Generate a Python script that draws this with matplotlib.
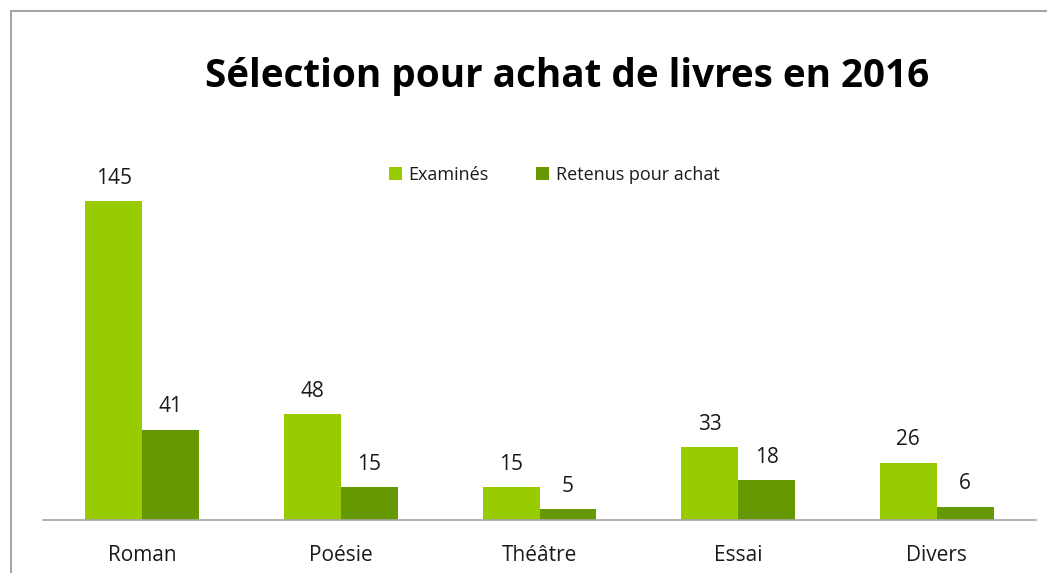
import matplotlib
matplotlib.use("Agg")
import matplotlib.pyplot as plt
import numpy as np
from matplotlib.patches import Rectangle

categories = ["Roman", "Poésie", "Théâtre", "Essai", "Divers"]
examines = [145, 48, 15, 33, 26]
retenus = [41, 15, 5, 18, 6]
series_names = ["Examinés", "Retenus pour achat"]
title = "Sélection pour achat de livres en 2016"

c1 = "#99CC00"
c2 = "#669900"
font = "Open Sans"

W, H = 1047, 573
fig = plt.figure(figsize=(W / 100, H / 100), dpi=100)

# outer frame (top and left visible)
fig.add_artist(Rectangle((11 / W, -0.01), 1.05, 1 - 11 / H + 0.01, transform=fig.transFigure,
                         fill=False, edgecolor="#A6A6A6", linewidth=1.5))

ax = fig.add_axes([43 / W, 1 - 520 / H, (1036 - 43) / W, (520 - 168) / H])
x = np.arange(len(categories))
w = 0.287
b1 = ax.bar(x - w / 2, examines, w, color=c1, label=series_names[0])
b2 = ax.bar(x + w / 2, retenus, w, color=c2, label=series_names[1])
ax.set_xlim(-0.5, len(categories) - 0.5)
ax.set_ylim(0, 160)

for bars in (b1, b2):
    for r in bars:
        ax.annotate(f"{int(r.get_height())}", (r.get_x() + r.get_width() / 2, r.get_height()),
                    xytext=(0, 9), textcoords="offset points", ha="center", va="bottom",
                    fontsize=15, family=font, color="#1a1a1a")

ax.set_xticks(x)
ax.set_xticklabels(categories, fontsize=15, family=font, color="#1a1a1a")
ax.tick_params(axis="x", length=0, pad=18)
ax.set_yticks([])
for s in ("top", "right", "left"):
    ax.spines[s].set_visible(False)
ax.spines["bottom"].set_color("#A6A6A6")
ax.spines["bottom"].set_linewidth(1.2)

leg = fig.legend(loc="center", bbox_to_anchor=(554 / W, 1 - 175 / H), ncol=2, frameon=False,
                 prop={"family": font, "size": 13}, handlelength=0.75, handleheight=0.75,
                 handletextpad=0.35, columnspacing=2.6)
for t in leg.get_texts():
    t.set_color("#1a1a1a")

fig.text(567 / W, 1 - 76 / H, title, ha="center", va="center", fontsize=27.8,
         fontweight="bold", family=font, color="black")

fig.savefig("out.png", dpi=100)
